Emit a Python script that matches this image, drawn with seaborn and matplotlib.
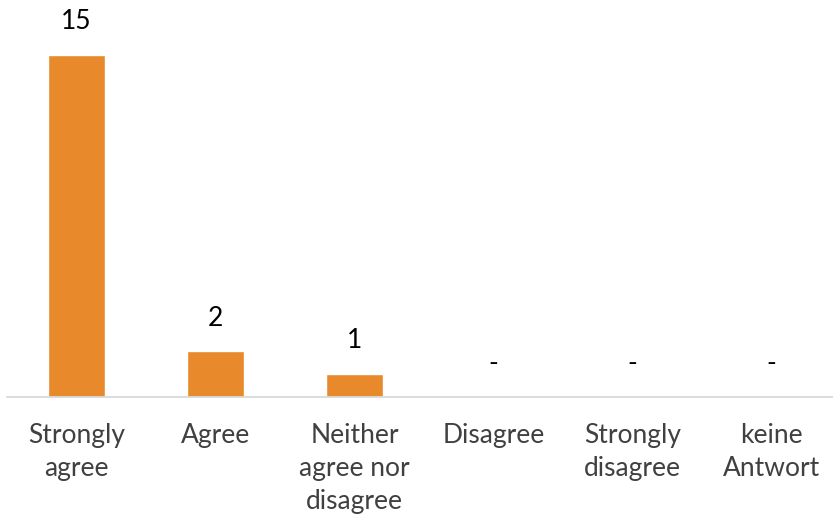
import matplotlib
matplotlib.use("Agg")
import matplotlib.pyplot as plt
import seaborn as sns
import pandas as pd

categories = ["Strongly\nagree", "Agree", "Neither\nagree nor\ndisagree", "Disagree",
              "Strongly\ndisagree", "keine\nAntwort"]
values = [15, 2, 1, 0, 0, 0]
value_labels = ["15", "2", "1", "-", "-", "-"]

sns.set_theme(style="white")
plt.rcParams['font.family'] = ['Lato', 'DejaVu Sans']

df = pd.DataFrame({"cat": categories, "val": values})

fig = plt.figure(figsize=(8.33, 5.18), dpi=100)
ax = fig.add_axes([7/833, 121/518, 834/833, 376/518])
sns.barplot(data=df, x="cat", y="val", color="#E8892B", width=0.41, saturation=1, ax=ax)
ax.set_ylim(0, 16.5)
ax.set_xlim(-0.5, 5.5)
ax.set_xlabel("")
ax.set_ylabel("")
ax.set_yticks([])
for s in ["top", "right", "left"]:
    ax.spines[s].set_visible(False)
ax.spines["bottom"].set_color("#D9D9D9")
ax.spines["bottom"].set_linewidth(1.3)
ax.tick_params(axis="x", length=0, pad=19, labelsize=19, colors="#404040")
for lbl in ax.get_xticklabels():
    lbl.set_linespacing(1.4)
    lbl.set_verticalalignment("top")
for i, (v, t) in enumerate(zip(values, value_labels)):
    ax.annotate(t, (i, v), xytext=(0, 15), textcoords="offset points",
                ha="center", va="bottom", fontsize=19, color="black")
fig.savefig("out.png", dpi=100)
